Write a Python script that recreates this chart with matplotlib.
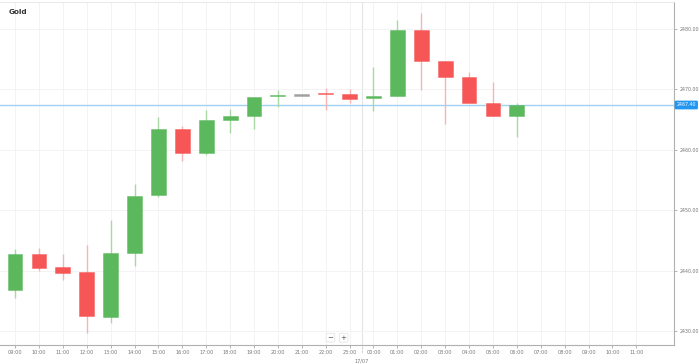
import matplotlib
matplotlib.use("Agg")
import matplotlib.pyplot as plt
import numpy as np

# hourly candles, 16/07 09:00 .. 17/07 06:00
hours = ["09:00", "10:00", "11:00", "12:00", "13:00", "14:00", "15:00", "16:00",
         "17:00", "18:00", "19:00", "20:00", "21:00", "22:00", "23:00", "00:00",
         "01:00", "02:00", "03:00", "04:00", "05:00", "06:00"]
opens = [2436.74, 2442.70, 2440.55, 2439.72, 2432.27, 2442.91, 2452.47, 2463.44,
         2459.42, 2464.93, 2465.60, 2468.86, 2468.95, 2469.29, 2469.29, 2468.53,
         2468.91, 2479.78, 2474.70, 2472.00, 2467.75, 2465.65]
closes = [2442.70, 2440.43, 2439.65, 2432.48, 2442.96, 2452.40, 2463.44, 2459.42,
          2464.88, 2465.65, 2468.79, 2468.96, 2468.95, 2469.20, 2468.41, 2468.86,
          2479.78, 2474.65, 2472.00, 2467.80, 2465.65, 2467.40]
highs = [2443.58, 2443.69, 2442.75, 2444.29, 2448.38, 2454.29, 2465.48, 2463.94,
         2466.59, 2466.75, 2468.79, 2469.90, 2468.95, 2470.18, 2470.02, 2473.66,
         2481.49, 2482.70, 2474.70, 2472.93, 2471.23, 2467.70]
lows = [2435.46, 2439.98, 2438.44, 2429.72, 2431.28, 2440.81, 2452.24, 2458.15,
        2459.14, 2462.73, 2463.44, 2467.14, 2468.95, 2466.59, 2467.70, 2466.42,
        2468.91, 2469.90, 2464.22, 2467.80, 2465.65, 2462.12]

axis_hours = hours + ["07:00", "08:00", "09:00", "10:00", "11:00"]
y_ticks = [2430, 2440, 2450, 2460, 2470, 2480]
last_price = 2467.40

green = "#5cb85c"
red = "#f75656"
green_wick = "#a9d9a3"
red_wick = "#f9b3b3"
grey = "#a0a0a0"

fig = plt.figure(figsize=(6.99, 3.64), dpi=100)
ax = fig.add_axes([0.0, 0.052, 0.964, 0.943])

x = np.arange(len(hours))
o = np.array(opens)
c = np.array(closes)
body_col = []
wick_col = []
for oo, cc in zip(o, c):
    if cc > oo:
        body_col.append(green); wick_col.append(green_wick)
    elif cc < oo:
        body_col.append(red); wick_col.append(red_wick)
    else:
        body_col.append(grey); wick_col.append("#cccccc")

ax.vlines(x, lows, highs, colors=wick_col, linewidth=1.0, zorder=2)
heights = np.abs(c - o)
heights = np.where(heights < 0.25, 0.25, heights)
bottoms = np.minimum(o, c)
ax.bar(x, heights, bottom=bottoms, width=0.62, color=body_col,
       edgecolor=[matplotlib.colors.to_rgba(b, 0.55) for b in body_col],
       linewidth=0.6, zorder=3)

# last price line
ax.axhline(last_price, color="#9fd2f2", linewidth=1.0, zorder=1)

# day separator
ax.axvline(14.5, color="#e4e4e4", linewidth=0.8, zorder=0)

ax.set_xlim(-0.63, 27.57)
ax.set_ylim(2427.68, 2484.47)

ax.set_xticks(np.arange(len(axis_hours)))
ax.set_xticklabels(axis_hours, fontsize=3.6, color="#777777")
ax.set_yticks(y_ticks)
ax.set_yticklabels(["%.2f" % v for v in y_ticks], fontsize=3.4, color="#777777")
ax.yaxis.tick_right()
ax.tick_params(axis="x", length=2.5, width=0.5, color="#999999", pad=1.0)
ax.tick_params(axis="y", length=2.5, width=0.5, color="#999999", pad=2)
ax.grid(True, color="#f3f3f3", linewidth=0.7, zorder=0)
ax.set_axisbelow(True)

ax.spines["left"].set_visible(False)
ax.spines["top"].set_color("#e6e6e6")
ax.spines["top"].set_linewidth(0.6)
for s in ["right", "bottom"]:
    ax.spines[s].set_color("#b0b0b0")
    ax.spines[s].set_linewidth(0.8)

# price label on the right axis
ax.text(1.004, last_price, "%.2f" % last_price, transform=ax.get_yaxis_transform(),
        fontsize=3.4, color="white", va="center", ha="left",
        bbox=dict(boxstyle="round,pad=0.25,rounding_size=0.15", fc="#2196f3", ec="#2196f3"))

# date label under separator
ax.text(14.5, -0.046, "17/07", transform=ax.get_xaxis_transform(),
        fontsize=3.6, color="#777777", ha="center", va="center")
ax.plot([14.5, 14.5], [0, -0.022], transform=ax.get_xaxis_transform(),
        color="#999999", linewidth=0.5, linestyle=(0, (1, 1)), clip_on=False)

# title
fig.text(0.013, 0.967, "Gold", fontsize=5.2, fontweight="bold", color="#333333",
         ha="left", va="center")

# zoom control
ax.text(13.2, 2428.9, "−", fontsize=5, color="#555555", ha="center", va="center",
        bbox=dict(boxstyle="round,pad=0.2", fc="white", ec="#e0e0e0", lw=0.5))
ax.text(13.75, 2428.9, "+", fontsize=5, color="#555555", ha="center", va="center",
        bbox=dict(boxstyle="round,pad=0.2", fc="white", ec="#e0e0e0", lw=0.5))

fig.savefig("out.png", dpi=100)
